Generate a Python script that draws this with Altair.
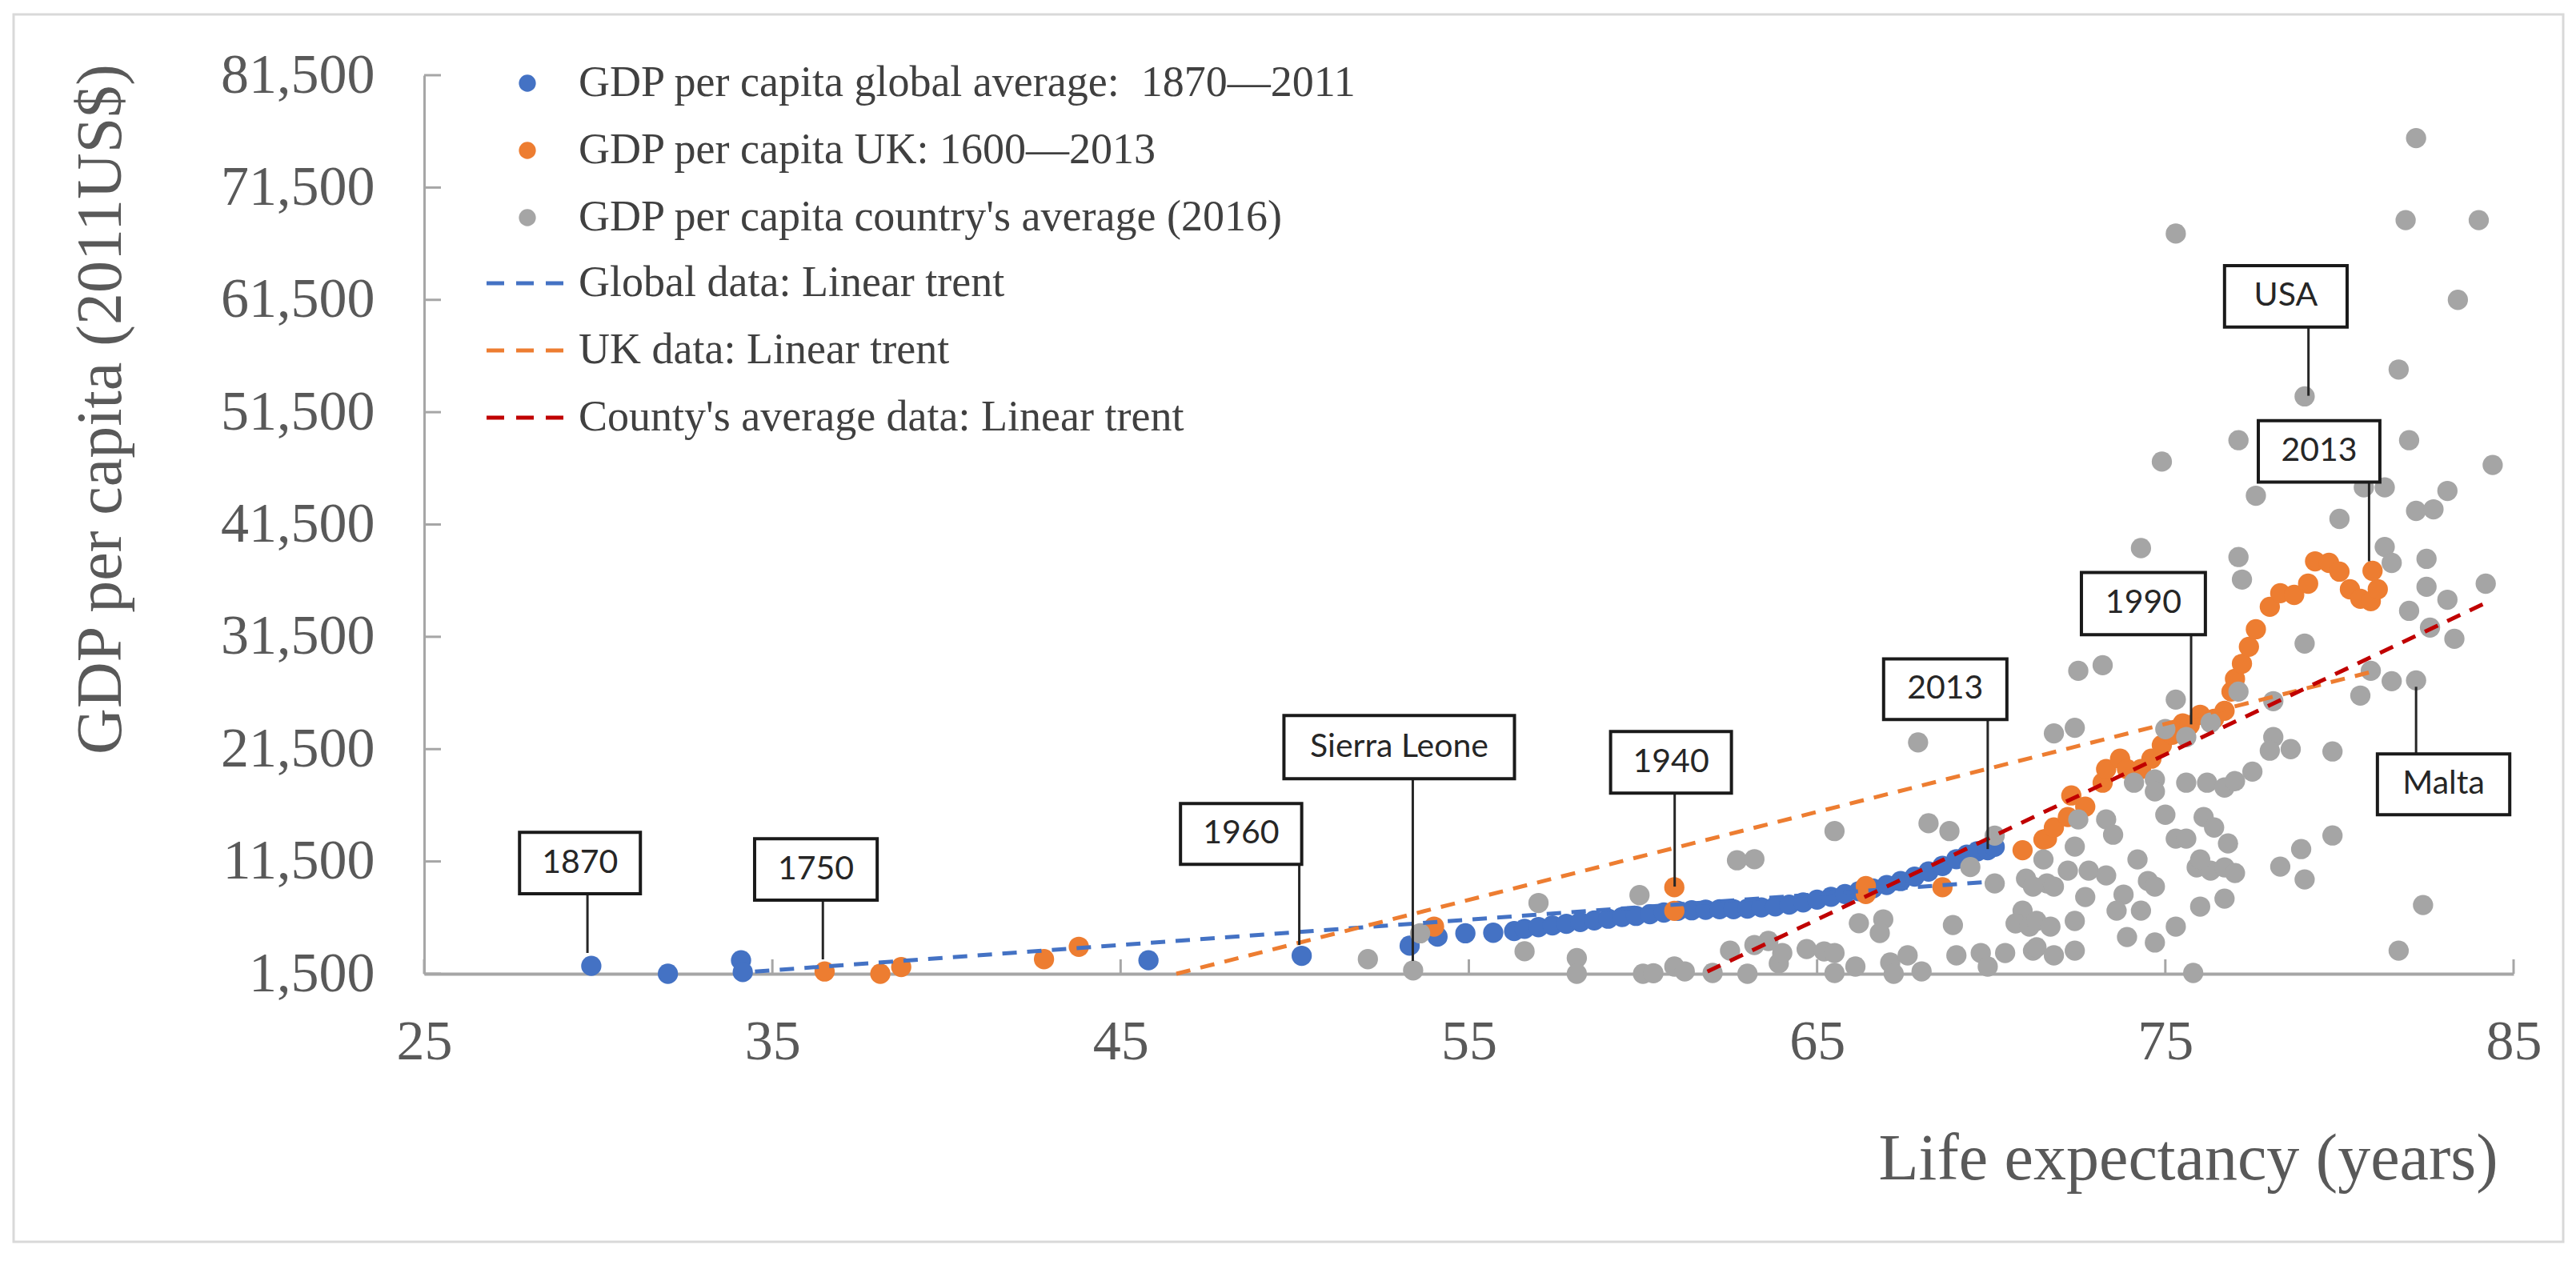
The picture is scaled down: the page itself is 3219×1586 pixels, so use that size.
"""GDP per capita against life expectancy: global average, UK and country averages."""
import pandas as pd
import altair as alt

# global average 1870-2011
global_life = [29.8, 32.0, 34.1, 34.15, 45.8, 50.2, 53.3, 54.1, 54.9, 55.7, 56.3,
               56.6, 57.0, 57.4, 57.8, 58.2, 58.6, 59.0, 59.4, 59.8, 60.2, 60.6,
               61.0, 61.4, 61.8, 62.2, 62.6, 63.0, 63.4, 63.8, 64.2, 64.6, 65.0,
               65.4, 65.8, 66.2, 66.6, 67.0, 67.4, 67.8, 68.2, 68.6, 69.0, 69.3,
               69.6, 69.9, 70.1]
global_gdp = [2200, 1500, 2700, 1650, 2700, 3100, 4000, 4800, 5100, 5150, 5300,
              5500, 5650, 5800, 5950, 6100, 6250, 6400, 6550, 6650, 6800, 6950,
              7100, 7150, 7200, 7250, 7250, 7300, 7400, 7500, 7650, 7850, 8100,
              8350, 8600, 8850, 9100, 9400, 9750, 10150, 10600, 11100, 11700, 12100,
              12400, 12500, 12800]

# UK 1600-2013
uk_life = [36.5, 38.1, 38.7, 42.8, 43.8, 54.0, 60.9, 60.9, 66.4, 66.4, 68.6,
           70.9, 71.5, 71.6, 71.8, 72.2, 72.3, 72.7, 73.2, 73.3, 73.7, 73.9,
           74.3, 74.6, 74.9, 75.2, 75.5, 75.7, 76.0, 76.4, 76.7, 76.9, 77.0,
           77.2, 77.4, 77.6, 78.0, 78.3, 78.7, 79.1, 79.3, 79.7, 80.0, 80.3,
           80.6, 80.9, 81.1, 80.95]
uk_gdp = [1700, 1500, 2100, 2800, 3900, 5700, 7100, 9200, 8600, 9300, 9200,
          12500, 13450, 13530, 14520, 15450, 17370, 16370, 18510, 19720, 20650, 19720,
          19720, 20650, 21860, 22780, 23780, 23630, 24560, 24200, 24910, 26620, 27760,
          29100, 30610, 32170, 34170, 35380, 35230, 36230, 38220, 38080, 37300, 35730,
          34880, 34670, 35730, 37370]

# country averages 2016
country_life = [52.1, 53.4, 53.6, 56.6, 57.0, 58.1, 58.1, 59.9, 60.0, 60.3, 60.9,
                61.2, 62.0, 62.5, 63.0, 63.2, 63.6, 63.9, 64.0, 64.7, 65.2, 65.5,
                65.5, 66.1, 67.1, 67.6, 68.0, 67.2, 62.7, 63.2, 65.5, 67.9, 68.2,
                68.8, 70.1, 69.4, 70.1, 66.2, 66.9, 66.8, 68.9, 70.9, 70.7, 71.1,
                71.2, 69.0, 69.7, 69.9, 70.4, 72.5, 73.2, 75.3, 71.8, 72.4, 75.0,
                75.6, 76.3, 77.1, 78.1, 78.1, 78.0, 78.6, 79.8, 80.9, 81.5, 80.6,
                77.5, 75.6, 76.2, 76.7, 77.0, 74.1, 74.7, 74.7, 75.0, 73.3, 73.5,
                72.5, 72.4, 75.3, 75.6, 76.1, 76.4, 76.8, 75.9, 76.3, 76.7, 77.0,
                76.0, 74.2, 74.5, 74.7, 71.5, 71.0, 71.6, 72.2, 72.8, 73.3, 71.2,
                71.8, 72.7, 71.3, 71.7, 72.4, 73.8, 73.6, 74.3, 73.9, 74.7, 75.3,
                76.0, 76.7, 78.3, 78.9, 79.0, 79.8, 71.3, 71.8, 72.4, 75.8, 81.7,
                82.4, 82.2, 82.2, 75.3, 81.9, 84.0, 83.4, 81.7, 79.0, 77.1, 82.0,
                74.9, 84.4, 77.6, 80.7, 81.3, 83.1, 82.2, 82.7, 80.0, 74.3, 77.1,
                77.2, 81.3, 81.5, 82.5, 82.5, 83.1, 84.2, 82.0, 82.6, 83.3, 79.0]
country_gdp = [2800, 1800, 5100, 3500, 7800, 2900, 1500, 8500, 1500, 1550, 2140,
               1710, 1570, 3560, 1500, 4060, 4420, 2430, 3350, 3700, 3490, 3350,
               1570, 2140, 2500, 3140, 1710, 1500, 11600, 11700, 14200, 22100, 14900,
               14200, 13800, 11000, 9540, 6000, 6340, 5130, 5840, 7120, 5980, 5700,
               3560, 3140, 3350, 2140, 3350, 28470, 28970, 25910, 22900, 23400, 23280,
               22570, 23850, 26620, 25770, 22570, 21360, 21500, 21290, 28470, 27550, 26270,
               19500, 18510, 18510, 18080, 18650, 18510, 18800, 17730, 15660, 15240, 13880,
               15240, 12820, 13530, 13530, 15450, 14520, 13100, 10970, 10680, 10970, 10470,
               11680, 11680, 9760, 9260, 11680, 9970, 9540, 10680, 10680, 10250, 9260,
               9260, 8330, 6200, 5700, 6200, 8550, 7120, 7120, 4770, 4280, 5700,
               7480, 8190, 11040, 12600, 9900, 13810, 3850, 3140, 3560, 1570, 3560,
               7620, 27620, 75900, 67400, 68600, 68600, 61500, 55300, 52900, 49000, 49000,
               47100, 46800, 44060, 44800, 44800, 44490, 42710, 42850, 42000, 39400, 38600,
               36600, 39500, 38080, 38440, 35950, 34800, 36230, 33810, 32320, 31320, 30900]

series_names = ["GDP per capita global average:\u00a0 1870\u20142011",
                "\u00a0GDP per capita UK: 1600\u20142013",
                "\u00a0GDP per capita country's average (2016)"]
series_colors = ["#4472C4", "#ED7D31", "#A5A5A5"]

# linear trend lines (start and end)
trend_names = ["Global data: Linear trent", "UK data: Linear trent",
               "County's average data: Linear trent"]
trend_colors = ["#4472C4", "#ED7D31", "#C00000"]
trend_x0 = [34.5, 46.6, 61.85]
trend_y0 = [1700, 1500, 1700]
trend_x1 = [70.0, 81.0, 84.3]
trend_y1 = [9700, 28440, 34670]

x_ticks = [25, 35, 45, 55, 65, 75, 85]
y_ticks = [1500, 11500, 21500, 31500, 41500, 51500, 61500, 71500, 81500]

# callout boxes and their pointers
box_labels = ["1870", "1750", "1960", "Sierra Leone", "1940", "2013", "1990",
              "USA", "2013", "Malta"]
box_x1 = [27.74, 34.49, 46.72, 49.69, 59.07, 66.91, 72.59, 76.70, 77.67, 81.09]
box_x2 = [31.21, 38.01, 50.20, 56.31, 62.54, 70.45, 76.15, 80.22, 81.16, 84.89]
box_y1 = [8617, 8048, 11250, 18870, 17580, 24130, 31680, 59070, 45270, 15660]
box_y2 = [14097, 13528, 16660, 24490, 23060, 29540, 37230, 64550, 50750, 21070]
pointer_x = [29.69, 36.45, 50.13, 53.39, 60.91, 69.90, 75.74, 79.11, 80.85, 82.20]
pointer_y1 = [8617, 8048, 11250, 18870, 17580, 24130, 31680, 59070, 45270, 21070]
pointer_y2 = [3350, 2780, 4060, 2640, 9260, 12600, 23700, 52960, 38220, 27050]

W, H = 2611, 1123
SERIF = "Liberation Serif"
GREY_TEXT = "#595959"
AXIS_GREY = "#A6A6A6"

points = pd.concat([
    pd.DataFrame({"life": global_life, "gdp": global_gdp, "series": series_names[0]}),
    pd.DataFrame({"life": uk_life, "gdp": uk_gdp, "series": series_names[1]}),
    pd.DataFrame({"life": country_life, "gdp": country_gdp, "series": series_names[2]}),
], ignore_index=True)

trends = pd.DataFrame({
    "trend": trend_names + trend_names,
    "life": trend_x0 + trend_x1,
    "gdp": trend_y0 + trend_y1,
})

boxes = pd.DataFrame({"label": box_labels, "x1": box_x1, "x2": box_x2,
                      "y1": box_y1, "y2": box_y2})
boxes["xc"] = (boxes["x1"] + boxes["x2"]) / 2
boxes["yc"] = (boxes["y1"] + boxes["y2"]) / 2
pointers = pd.DataFrame({"x": pointer_x, "y1": pointer_y1, "y2": pointer_y2})

x_scale = alt.Scale(domain=[25, 85], nice=False, zero=False)
y_scale = alt.Scale(domain=[1500, 81500], nice=False, zero=False)

x_axis = alt.Axis(values=x_ticks, format="d", title="Life expectancy (years)",
                  titleFont=SERIF, titleFontSize=82, titleFontWeight="normal",
                  titleColor=GREY_TEXT, titleX=2591, titleY=256, titleAlign="right",
                  titleBaseline="alphabetic", labelFont=SERIF, labelFontSize=70,
                  labelColor=GREY_TEXT, labelPadding=106, labelBaseline="alphabetic",
                  labelFlush=False, labelOverlap=False, labelLimit=400, ticks=False,
                  tickSize=0, grid=False, domainColor=AXIS_GREY, domainWidth=4)
y_axis = alt.Axis(values=y_ticks, format=",d", title="GDP per capita (2011US$)",
                  titleFont=SERIF, titleFontSize=80, titleFontWeight="normal",
                  titleColor=GREY_TEXT, titleAngle=270, titleX=-380, titleY=417,
                  titleAlign="center", titleBaseline="alphabetic", titleLimit=2000,
                  labelFont=SERIF, labelFontSize=70, labelColor=GREY_TEXT,
                  labelPadding=62, labelOverlap=False, labelLimit=400, ticks=False,
                  tickSize=0, grid=False, domainColor=AXIS_GREY, domainWidth=3)


def xenc(field):
    return alt.X(field, type="quantitative", scale=x_scale, axis=x_axis)


def yenc(field):
    return alt.Y(field, type="quantitative", scale=y_scale, axis=y_axis)


# thin outer frame around the whole figure (transparent so axes stay visible)
frame = alt.Chart(pd.DataFrame({"frame": [0]})).mark_rect(
    fill="white", fillOpacity=0, stroke="#D9D9D9", strokeWidth=3
).encode(x=alt.value(-513), x2=alt.value(2673), y=alt.value(-76), y2=alt.value(1458))

dots = alt.Chart(points).mark_circle(size=640, opacity=1).encode(
    x=xenc("life"),
    y=yenc("gdp"),
    color=alt.Color("series:N", sort=series_names,
                    scale=alt.Scale(domain=series_names, range=series_colors),
                    legend=alt.Legend(title=None, orient="none", legendX=102, legendY=-17,
                                      padding=0, symbolType="circle", symbolSize=452,
                                      symbolStrokeWidth=0, symbolOpacity=1,
                                      labelFont=SERIF, labelFontSize=54,
                                      labelColor="#404040", labelOffset=37,
                                      rowPadding=30, labelLimit=2000)),
)

lines = alt.Chart(trends).mark_line(strokeWidth=5, strokeDash=[18, 13]).encode(
    x=xenc("life"),
    y=yenc("gdp"),
    stroke=alt.Stroke("trend:N", sort=trend_names,
                      scale=alt.Scale(domain=trend_names, range=trend_colors),
                      legend=alt.Legend(title=None, orient="none", legendX=75.5, legendY=233,
                                        padding=0, symbolType="stroke", symbolSize=10609,
                                        symbolStrokeWidth=5, symbolDash=[22, 15],
                                        clipHeight=54, labelFont=SERIF, labelFontSize=54,
                                        labelColor="#404040", labelOffset=9.5,
                                        rowPadding=30, labelLimit=2000)),
    detail="trend:N",
)

x_tick_marks = alt.Chart(pd.DataFrame({"tick": x_ticks})).mark_rule(
    color=AXIS_GREY, strokeWidth=3
).encode(x=xenc("tick"), y=alt.value(H), y2=alt.value(H - 18))

y_tick_marks = alt.Chart(pd.DataFrame({"tick": y_ticks})).mark_rule(
    color=AXIS_GREY, strokeWidth=3
).encode(y=yenc("tick"), x=alt.value(0), x2=alt.value(21))

pointer_lines = alt.Chart(pointers).mark_rule(color="#262626", strokeWidth=3).encode(
    x=xenc("x"),
    y=yenc("y1"),
    y2="y2:Q",
)

box_rects = alt.Chart(boxes).mark_rect(fill="white", stroke="#1a1a1a", strokeWidth=4).encode(
    x=xenc("x1"),
    x2="x2:Q",
    y=yenc("y1"),
    y2="y2:Q",
)

box_text = alt.Chart(boxes).mark_text(font="Lato", fontSize=41, color="#262626",
                                       align="center", baseline="middle").encode(
    x=xenc("xc"),
    y=yenc("yc"),
    text="label:N",
)

chart = alt.layer(
    frame, dots, lines, x_tick_marks, y_tick_marks, pointer_lines, box_rects, box_text
).properties(
    width=W, height=H,
    autosize=alt.AutoSizeParams(type="none"),
    padding={"left": 522, "top": 86, "right": 70, "bottom": 355},
    background="white",
).configure_view(stroke=None)

chart.save("out.html", embed_options={"renderer": "svg", "actions": False})
